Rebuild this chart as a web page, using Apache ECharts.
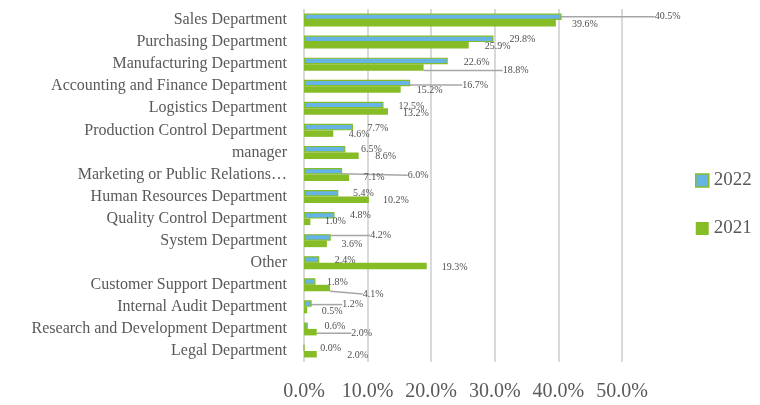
<!DOCTYPE html>
<html>
<head>
<meta charset="utf-8">
<script src="https://cdn.jsdelivr.net/npm/echarts@6/dist/echarts.min.js"></script>
<style>
  html, body { margin: 0; padding: 0; background: #ffffff; }
  #chart { width: 760px; height: 405px; }
</style>
</head>
<body>
<div id="chart"></div>
<script>
// Departments, top to bottom
const departments = [
  'Sales Department',
  'Purchasing Department',
  'Manufacturing Department',
  'Accounting and Finance Department',
  'Logistics Department',
  'Production Control Department',
  'manager',
  'Marketing or Public Relations…',
  'Human Resources Department',
  'Quality Control Department',
  'System Department',
  'Other',
  'Customer Support Department',
  'Internal Audit Department',
  'Research and Development Department',
  'Legal Department'
];

// Share of respondents (%)
const values2022 = [40.5, 29.8, 22.6, 16.7, 12.5, 7.7, 6.5, 6.0, 5.4, 4.8, 4.2, 2.4, 1.8, 1.2, 0.6, 0.0];
const values2021 = [39.6, 25.9, 18.8, 15.2, 13.2, 4.6, 8.6, 7.1, 10.2, 1.0, 3.6, 19.3, 4.1, 0.5, 2.0, 2.0];

// X axis ticks (%)
const xTicks = [0, 10, 20, 30, 40, 50];

// Label placement: offset of the label centre from the bar end [dx, dy]
const labelShift2022 = [
  [106, 0], [29, 1], [29, 1], [65, 2], [28, 1], [25, 1], [26, 0], [76, 4],
  [25, 0], [26, 0], [50, -2], [26, 1], [22, 1], [41, 1], [27, 1], [26, 1]
];
const labelShift2021 = [
  [29, 1], [29, 1], [92, 3], [29, 1], [28, 2], [26, 1], [27, 1], [25, 0],
  [27, 1], [25, 0], [25, 0], [28, 1], [43, 6], [25, 1], [45, 1], [41, 1]
];
// Which labels carry a leader line
const leader2022 = [1, 0, 0, 1, 0, 0, 0, 1, 0, 0, 1, 0, 0, 1, 0, 0];
const leader2021 = [0, 0, 1, 0, 0, 0, 0, 0, 0, 0, 0, 0, 1, 0, 1, 0];

const BLUE = '#66b3e6';
const GREEN = '#86bc25';
const TEXT = '#595959';
const FONT = '"Liberation Serif", "DejaVu Serif", serif';

function buildData(values, leaders) {
  return values.map((v, i) => ({
    value: v,
    labelLine: { show: !!leaders[i] }
  }));
}

function layoutFor(shifts) {
  return function (params) {
    const s = shifts[params.dataIndex];
    const r = params.rect;
    return {
      x: r.x + r.width + s[0],
      y: r.y + r.height / 2 + s[1],
      align: 'center',
      verticalAlign: 'middle'
    };
  };
}

const labelStyle = {
  show: true,
  position: 'right',
  distance: 0,
  formatter: p => p.value.toFixed(1) + '%',
  fontFamily: FONT,
  fontSize: 10,
  color: '#505050'
};
const lineStyle = { show: false, lineStyle: { color: '#a6a6a6', width: 1.5 }, length2: 0 };

const chart = echarts.init(document.getElementById('chart'), null, { renderer: 'canvas' });
chart.setOption({
  animation: false,
  backgroundColor: '#ffffff',
  grid: { left: 304, top: 9, width: 318, height: 353, containLabel: false },
  legend: {
    data: ['2022', '2021'],
    orient: 'vertical',
    left: 690,
    top: 166,
    icon: 'rect',
    itemWidth: 13,
    itemHeight: 13,
    itemGap: 29,
    itemStyle: { borderWidth: 1.5 },
    textStyle: { fontFamily: FONT, fontSize: 19, color: TEXT }
  },
  xAxis: {
    type: 'value',
    min: xTicks[0],
    max: xTicks[xTicks.length - 1],
    interval: xTicks[1] - xTicks[0],
    axisLine: { show: false },
    axisTick: { show: false },
    splitLine: { lineStyle: { color: '#d9d9d9', width: 2 } },
    axisLabel: {
      margin: 20,
      fontFamily: FONT,
      fontSize: 20,
      color: TEXT,
      formatter: v => v.toFixed(1) + '%'
    }
  },
  yAxis: {
    type: 'category',
    inverse: true,
    data: departments,
    axisLine: { show: false },
    axisTick: { show: false },
    axisLabel: { margin: 17, fontFamily: FONT, fontSize: 16, color: TEXT }
  },
  series: [
    {
      name: '2022',
      type: 'bar',
      barWidth: 6.5,
      barGap: '0%',
      data: buildData(values2022, leader2022),
      itemStyle: { color: BLUE, borderColor: GREEN, borderWidth: 1.2 },
      label: labelStyle,
      labelLayout: layoutFor(labelShift2022),
      labelLine: lineStyle
    },
    {
      name: '2021',
      type: 'bar',
      barWidth: 6.5,
      barGap: '0%',
      data: buildData(values2021, leader2021),
      itemStyle: { color: GREEN },
      label: labelStyle,
      labelLayout: layoutFor(labelShift2021),
      labelLine: lineStyle
    }
  ]
});
</script>
</body>
</html>
